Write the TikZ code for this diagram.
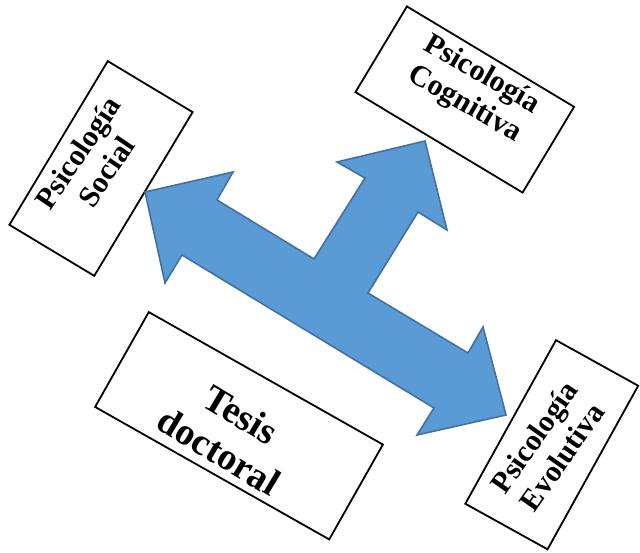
\documentclass[tikz,border=0pt]{standalone}
\usepackage{fontspec}
\setmainfont{Liberation Serif}
\begin{document}
\begin{tikzpicture}[x=1pt,y=1pt,
  topicbox/.style={draw=black, line width=1.8pt, fill=white, inner sep=0pt},
  topictext/.style={font=\bfseries\fontsize{30}{34}\selectfont, align=center, inner sep=0pt},
  maintext/.style={font=\bfseries\fontsize{38}{43}\selectfont, align=center, inner sep=0pt},
  bigarrow/.style={fill=arrowfill, draw=arrowline, line width=1.6pt, line join=miter}]
\definecolor{arrowfill}{HTML}{5B9BD5}
\definecolor{arrowline}{HTML}{41719C}
\useasboundingbox (0,0) rectangle (640,553);

% framed topic boxes
\node[topicbox, minimum width=191pt, minimum height=99pt, rotate=59] (social) at (101,384.5) {};
\node[topicbox, minimum width=195pt, minimum height=100pt, rotate=-31] (cognitiva) at (464.75,453.5) {};
\node[topicbox, minimum width=269pt, minimum height=109pt, rotate=-29.5] (tesis) at (239,127.25) {};
\node[topicbox, minimum width=187pt, minimum height=94pt, rotate=61] (evolutiva) at (551.75,108.25) {};

% labels
\node[topictext, rotate=56] (socialtxt) at (92,391) {Psicología\\Social};
\node[topictext, rotate=-30] (cognitivatxt) at (473,463) {Psicología\\Cognitiva};
\node[maintext, rotate=-31] (tesistxt) at (230,120) {Tesis\\doctoral};
\node[topictext, rotate=55] (evolutivatxt) at (548,106) {Psicología\\Evolutiva};

% three-headed block arrow
\draw[bigarrow]
  (145,361) -- (233,381) -- (217,353) -- (314,294) -- (365,375) -- (337,391)
  -- (425,412) -- (447,323) -- (418,341) -- (368,260) -- (468,200) -- (483,226)
  -- (506,138) -- (417,118) -- (434,145) -- (182,298) -- (165,270) -- cycle;
\end{tikzpicture}
\end{document}
